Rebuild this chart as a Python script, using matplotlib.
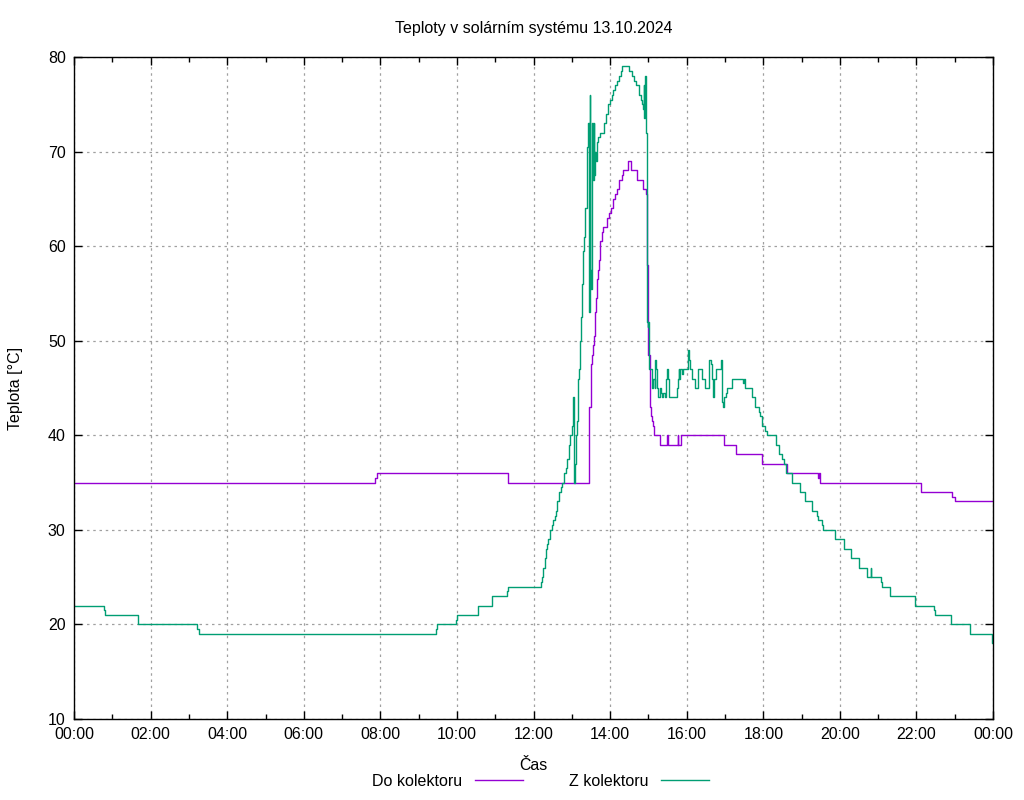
import matplotlib
matplotlib.use("Agg")
import matplotlib.pyplot as plt
from matplotlib import font_manager
from matplotlib.ticker import MultipleLocator

# gnuplot-like narrow sans, fall back to normal width
names = {f.name for f in font_manager.fontManager.ttflist}
fam = "Liberation Sans Narrow" if "Liberation Sans Narrow" in names else "Liberation Sans"
plt.rcParams["font.family"] = [fam, "DejaVu Sans"]

# time in hours, temperature in degC (step data)
do_t = [0, 7.85, 7.90, 11.32, 13.46, 13.49, 13.52, 13.55, 13.57, 13.61, 13.64, 13.66,
        13.69, 13.70, 13.74, 13.79, 13.81, 13.91, 13.97, 14.02, 14.07, 14.13, 14.19,
        14.24, 14.30, 14.34, 14.47, 14.54, 14.69, 14.85, 14.93, 14.96, 14.99, 15.00,
        15.03, 15.05, 15.07, 15.09, 15.12, 15.15, 15.29, 15.48, 15.50, 15.76, 15.78,
        15.84, 16.98, 17.29, 17.96, 18.61, 19.42, 19.45, 19.48, 22.11, 22.94, 23.00, 24]
do_v = [35, 35.5, 36, 35, 43, 47.5, 48.5, 49.5, 50.5, 53, 54.5, 56.5,
        57.5, 58.5, 60.5, 61.5, 62, 63, 63.5, 64, 65, 65.5, 66,
        67, 67.5, 68, 69, 68, 67, 66, 65.5, 58, 52, 48.5,
        46, 43, 42, 41.5, 41, 40, 39, 40, 39, 40, 39,
        40, 39, 38, 37, 36, 35.5, 36, 35, 34, 33.5, 33, 33]

z_t = [0, 0.77, 0.81, 1.66, 3.22, 3.27, 9.45, 9.47, 9.98, 10.00, 10.56, 10.92, 11.31,
       11.32, 12.19, 12.21, 12.25, 12.29, 12.33, 12.36, 12.39, 12.43, 12.47, 12.52,
       12.56, 12.59, 12.62, 12.66, 12.72, 12.75, 12.80, 12.84, 12.87, 12.92, 12.95,
       13.00, 13.02, 13.04, 13.06, 13.08, 13.10, 13.13, 13.17, 13.19, 13.21, 13.24,
       13.26, 13.27, 13.30, 13.33, 13.35, 13.39, 13.43, 13.45, 13.47, 13.48, 13.50,
       13.52, 13.55, 13.57, 13.59, 13.61, 13.63, 13.65, 13.69, 13.74, 13.83, 13.89,
       13.94, 14.00, 14.04, 14.08, 14.13, 14.17, 14.24, 14.28, 14.30, 14.50, 14.56,
       14.62, 14.68, 14.76, 14.80, 14.83, 14.86, 14.88, 14.89, 14.91, 14.93, 14.95,
       14.98, 15.00, 15.02, 15.10, 15.13, 15.16, 15.17, 15.20, 15.22, 15.26, 15.29,
       15.32, 15.35, 15.39, 15.43, 15.46, 15.48, 15.51, 15.52, 15.54, 15.72, 15.74,
       15.77, 15.79, 15.81, 15.83, 15.87, 15.90, 16.03, 16.05, 16.07, 16.09, 16.13,
       16.22, 16.30, 16.39, 16.44, 16.48, 16.57, 16.59, 16.64, 16.65, 16.68, 16.71,
       16.77, 16.90, 16.92, 16.93, 16.96, 16.98, 17.03, 17.06, 17.19, 17.48, 17.50,
       17.53, 17.71, 17.78, 17.88, 17.92, 17.96, 18.00, 18.05, 18.09, 18.33, 18.42,
       18.50, 18.53, 18.60, 18.74, 18.76, 18.96, 19.08, 19.10, 19.27, 19.40, 19.42,
       19.53, 19.55, 19.86, 20.12, 20.28, 20.50, 20.72, 20.80, 20.82, 21.07, 21.10,
       21.32, 21.95, 21.97, 22.47, 22.49, 22.89, 23.40, 23.97, 24]
z_v = [22, 21.5, 21, 20, 19.5, 19, 19.5, 20, 20.5, 21, 22, 23, 23.5,
       24, 24.5, 25, 26, 27, 28, 28.5, 29, 30, 30.5, 31,
       31.5, 32, 33, 34, 34.5, 35, 36, 36.5, 37.5, 39, 40,
       41, 41.5, 44, 35, 37, 40, 41.5, 46, 47, 50, 52.5,
       53.5, 56, 59.5, 61, 64, 70.5, 73, 53, 76, 57.5, 55.5,
       73, 67, 73, 67.5, 70, 69, 71, 71.5, 72, 73, 74,
       75, 75.5, 76, 76.5, 77, 77.5, 78, 78.5, 79, 78.5, 78,
       77.5, 77, 76, 75.5, 75, 74.5, 77, 73.5, 78, 72, 52,
       51.5, 52, 47, 45, 46, 45, 48, 47, 45, 44, 45,
       44.5, 44, 44.5, 44, 46, 47, 46.5, 46, 44, 44, 45,
       46, 47, 46, 47, 46.5, 47, 49, 48.5, 48, 47, 46,
       45, 47, 46, 46, 45, 47, 48, 47.5, 46, 44, 46,
       47, 48, 46, 43.5, 43, 44, 44.5, 45, 46, 45.5, 46,
       45, 44, 43, 42.5, 42, 41, 41, 40.5, 40, 39, 38,
       37.5, 37, 36, 35.5, 35, 34, 33.5, 33, 32, 31.5, 31,
       30.5, 30, 29, 28, 27, 26, 25, 26, 25, 24.5, 24,
       23, 22.5, 22, 21.5, 21, 20, 19, 18, 18]

hour_ticks = list(range(0, 25, 2))
hour_labels = ["%02d:00" % (h % 24) for h in hour_ticks]

fig = plt.figure(figsize=(10.24, 8), dpi=100)
ax = fig.add_axes([0.0723, 0.10125, 0.8975, 0.8275])

ax.plot(do_t, do_v, drawstyle="steps-post", color="#9400D3", lw=1, label="Do kolektoru")
ax.plot(z_t, z_v, drawstyle="steps-post", color="#009E73", lw=1, label="Z kolektoru")

ax.set_xlim(0, 24)
ax.set_ylim(10, 80)
ax.set_xticks(hour_ticks)
ax.set_xticklabels(hour_labels)
ax.xaxis.set_minor_locator(MultipleLocator(1))
ax.yaxis.set_major_locator(MultipleLocator(10))
ax.tick_params(which="both", direction="in", top=True, right=True, labelsize=11.5)
ax.tick_params(which="major", length=6, width=1, pad=6)
ax.tick_params(which="minor", length=3.5, width=1)
ax.grid(True, which="major", color="#a0a0a0", linestyle=(0, (2, 3)), lw=0.9)
for s in ax.spines.values():
    s.set_linewidth(1)

ax.set_title("Teploty v solárním systému 13.10.2024", fontsize=11.5, pad=17)
ax.set_ylabel("Teplota [°C]", fontsize=11.5, labelpad=18)
ax.set_xlabel("Čas", fontsize=11.5, labelpad=11)

fig.legend(loc="lower center", bbox_to_anchor=(0.528, 0.0), ncol=2, frameon=False,
           markerfirst=False, fontsize=11.5, handlelength=3.0, handletextpad=0.8,
           columnspacing=2.9, borderaxespad=0.3)

fig.savefig("out.png", dpi=100)
